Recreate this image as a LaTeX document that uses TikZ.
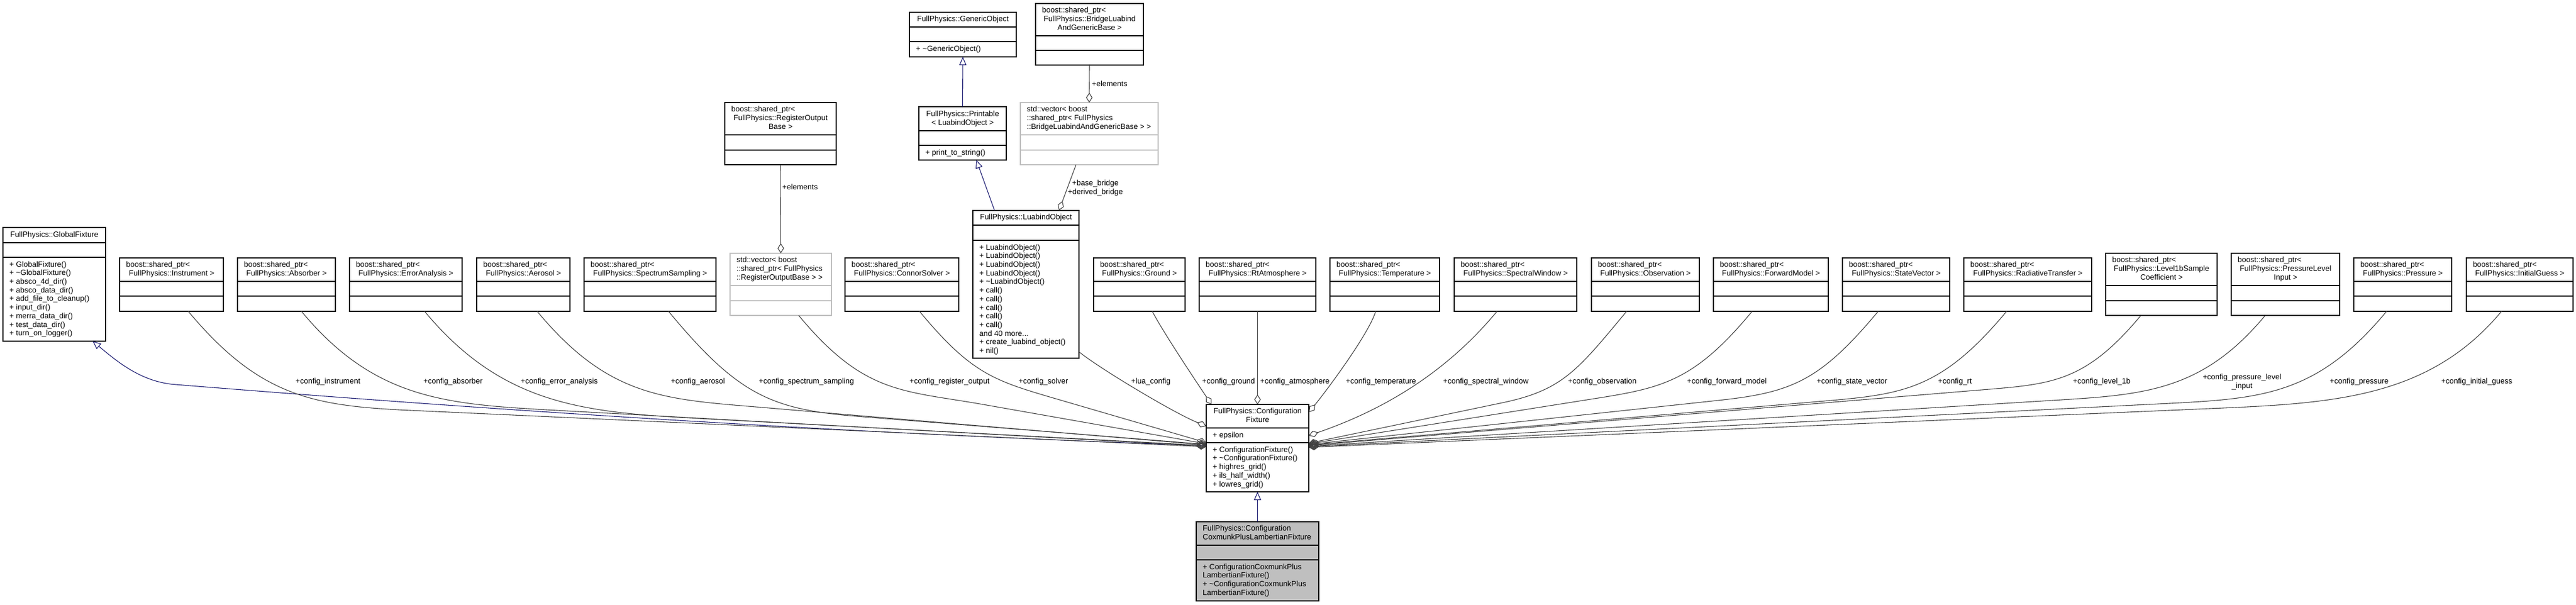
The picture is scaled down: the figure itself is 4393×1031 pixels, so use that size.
\documentclass[tikz,border=0pt]{standalone}
\usepackage{fontspec}
\setmainfont{Liberation Sans}
\usetikzlibrary{arrows.meta,calc}
\definecolor{edgegray}{HTML}{404040}
\definecolor{inhblue}{HTML}{191970}
\definecolor{boxgray}{HTML}{BFBFBF}
\newlength\hw
\newcommand\HC[1]{\makebox[\hw][c]{#1}}
% #1 style, #2 name, #3 xl, #4 xr, #5 ytop, #6 yhead, #7 yattr, #8 ybottom, #9 header rows
\newcommand\cbox[9]{%
  \setlength\hw{\dimexpr #4pt-#3pt-22pt\relax}%
  \node[#1, minimum width={#4pt-#3pt}, minimum height={#8pt-#5pt}] (#2) at (#3,-#5) {};
  \draw[#1sep] (#3,-#6) -- (#4,-#6) (#3,-#7) -- (#4,-#7);
  \node[anchor=west, inner sep=0pt] (#2-h) at ({#3+11},{-(#5+#6)/2}) {\begin{tabular}{@{}l@{}}#9\end{tabular}};
}
% #1 name, #2 xl, #3 section top, #4 rows
\newcommand\cmeth[4]{%
  \node[anchor=north west, inner sep=0pt, font=\fontsize{13}{14.7}\selectfont] (#1) at ({#2+11},{-(#3+5.7)}) {\begin{tabular}[t]{@{}l@{}}#4\end{tabular}};
}
% knee edge: #1 start, #2 first control offset, #3 knee, #4 tail control length, #5 end
\newcommand\kedge[5]{\draw[agg] (#1) .. controls +(#2) and ($(#3)!-#4!(#5)$) .. (#3) -- (#5);}
% simple edge: #1 start, #2 c1 offset, #3 c2 offset (rel. to end), #4 end
\newcommand\sedge[4]{\draw[agg] (#1) .. controls +(#2) and +(#3) .. (#4);}
\newcommand\lab[4]{\node[anchor=base west, inner sep=0pt] (#1) at (#2,-#3) {#4};}

\begin{document}
\begin{tikzpicture}[x=1pt,y=1pt,
  font=\fontsize{13}{15}\selectfont,
  clsbox/.style={draw=black, line width=1.2pt, fill=white, inner sep=0pt, outer sep=0pt, anchor=north west},
  clsboxsep/.style={draw=black, line width=1.2pt},
  vecbox/.style={clsbox, draw=boxgray},
  vecboxsep/.style={draw=boxgray, line width=1.2pt},
  selbox/.style={clsbox, fill=boxgray},
  selboxsep/.style={draw=black, line width=1.2pt},
  agg/.style={draw=edgegray, line width=1.1pt, -{Diamond[open,length=17pt,width=11pt]}},
  inh/.style={draw=inhblue, line width=1.1pt, -{Triangle[open,length=14pt,width=12pt]}}]
\useasboundingbox (0,0) rectangle (4393,-1031);
\fill[white] (0,0) rectangle (4393,-1031);

% ---------- class boxes ----------
\cbox{clsbox}{gf}{5}{180}{388}{414}{439}{582}{\HC{FullPhysics::GlobalFixture}}
\cmeth{gf-m}{5}{439}{+ GlobalFixture()\\+ \textasciitilde GlobalFixture()\\+ absco\_4d\_dir()\\+ absco\_data\_dir()\\+ add\_file\_to\_cleanup()\\+ input\_dir()\\+ merra\_data\_dir()\\+ test\_data\_dir()\\+ turn\_on\_logger()}

\cbox{clsbox}{inst}{204}{381}{440}{480}{505}{531}{boost::shared\_ptr<\\\HC{FullPhysics::Instrument >}}
\cbox{clsbox}{abs}{405}{572}{440}{480}{505}{531}{boost::shared\_ptr<\\\HC{FullPhysics::Absorber >}}
\cbox{clsbox}{err}{596}{788}{440}{480}{505}{531}{boost::shared\_ptr<\\\HC{FullPhysics::ErrorAnalysis >}}
\cbox{clsbox}{aer}{813}{972}{440}{480}{505}{531}{boost::shared\_ptr<\\\HC{FullPhysics::Aerosol >}}
\cbox{clsbox}{ss}{996}{1221}{440}{480}{505}{531}{boost::shared\_ptr<\\\HC{FullPhysics::SpectrumSampling >}}
\cbox{vecbox}{rov}{1245}{1418}{432}{487}{513}{538}{std::vector< boost\\::shared\_ptr< FullPhysics\\::RegisterOutputBase > >}
\cbox{clsbox}{ro}{1236}{1426}{175}{230}{256}{281}{boost::shared\_ptr<\\\HC{FullPhysics::RegisterOutput}\\\HC{Base >}}
\cbox{clsbox}{cs}{1441}{1635}{440}{480}{505}{531}{boost::shared\_ptr<\\\HC{FullPhysics::ConnorSolver >}}

\cbox{clsbox}{lo}{1659}{1840}{359}{384}{410}{611}{\HC{FullPhysics::LuabindObject}}
\cmeth{lo-m}{1659}{410}{+ LuabindObject()\\+ LuabindObject()\\+ LuabindObject()\\+ LuabindObject()\\+ \textasciitilde LuabindObject()\\+ call()\\+ call()\\+ call()\\+ call()\\+ call()\\and 40 more...\\+ create\_luabind\_object()\\+ nil()}
\cbox{clsbox}{pr}{1567}{1716}{182}{223}{248}{273}{\HC{FullPhysics::Printable}\\\HC{< LuabindObject >}}
\cmeth{pr-m}{1567}{248}{+ print\_to\_string()}
\cbox{clsbox}{go}{1551}{1733}{21}{46}{71}{97}{\HC{FullPhysics::GenericObject}}
\cmeth{go-m}{1551}{71}{+ \textasciitilde GenericObject()}
\cbox{clsbox}{br}{1766}{1950}{6}{61}{86}{111}{boost::shared\_ptr<\\\HC{FullPhysics::BridgeLuabind}\\\HC{AndGenericBase >}}
\cbox{vecbox}{brv}{1740}{1975}{175}{230}{256}{281}{std::vector< boost\\::shared\_ptr< FullPhysics\\::BridgeLuabindAndGenericBase > >}

\cbox{clsbox}{gr}{1865}{2021}{440}{480}{505}{531}{boost::shared\_ptr<\\\HC{FullPhysics::Ground >}}
\cbox{clsbox}{atm}{2045}{2244}{440}{480}{505}{531}{boost::shared\_ptr<\\\HC{FullPhysics::RtAtmosphere >}}
\cbox{clsbox}{tmp}{2268}{2455}{440}{480}{505}{531}{boost::shared\_ptr<\\\HC{FullPhysics::Temperature >}}
\cbox{clsbox}{sw}{2480}{2689}{440}{480}{505}{531}{boost::shared\_ptr<\\\HC{FullPhysics::SpectralWindow >}}
\cbox{clsbox}{obs}{2714}{2898}{440}{480}{505}{531}{boost::shared\_ptr<\\\HC{FullPhysics::Observation >}}
\cbox{clsbox}{fm}{2922}{3118}{440}{480}{505}{531}{boost::shared\_ptr<\\\HC{FullPhysics::ForwardModel >}}
\cbox{clsbox}{sv}{3142}{3325}{440}{480}{505}{531}{boost::shared\_ptr<\\\HC{FullPhysics::StateVector >}}
\cbox{clsbox}{rt}{3349}{3567}{440}{480}{505}{531}{boost::shared\_ptr<\\\HC{FullPhysics::RadiativeTransfer >}}
\cbox{clsbox}{l1b}{3591}{3781}{432}{487}{513}{538}{boost::shared\_ptr<\\\HC{FullPhysics::Level1bSample}\\\HC{Coefficient >}}
\cbox{clsbox}{pli}{3805}{3990}{432}{487}{513}{538}{boost::shared\_ptr<\\\HC{FullPhysics::PressureLevel}\\\HC{Input >}}
\cbox{clsbox}{pres}{4014}{4181}{440}{480}{505}{531}{boost::shared\_ptr<\\\HC{FullPhysics::Pressure >}}
\cbox{clsbox}{ig}{4206}{4388}{440}{480}{505}{531}{boost::shared\_ptr<\\\HC{FullPhysics::InitialGuess >}}

\cbox{clsbox}{cf}{2057}{2232}{690}{730}{755}{839}{\HC{FullPhysics::Configuration}\\\HC{Fixture}}
\cmeth{cf-a}{2057}{730}{+ epsilon}
\cmeth{cf-m}{2057}{755}{+ ConfigurationFixture()\\+ \textasciitilde ConfigurationFixture()\\+ highres\_grid()\\+ ils\_half\_width()\\+ lowres\_grid()}
\cbox{selbox}{cc}{2040}{2249}{890}{930}{955}{1025}{FullPhysics::Configuration\\CoxmunkPlusLambertianFixture}
\cmeth{cc-m}{2040}{955}{+ ConfigurationCoxmunkPlus\\LambertianFixture()\\+ \textasciitilde ConfigurationCoxmunkPlus\\LambertianFixture()}

% ---------- connector end points on ConfigurationFixture ----------
\coordinate (eG)  at ([yshift=-70pt]cf.north west);
\coordinate (e1)  at ([yshift=-72pt]cf.north west);
\coordinate (e2)  at ([yshift=-71pt]cf.north west);
\coordinate (e3)  at ([yshift=-70pt]cf.north west);
\coordinate (e4)  at ([yshift=-69pt]cf.north west);
\coordinate (e5)  at ([yshift=-68pt]cf.north west);
\coordinate (e6)  at ([yshift=-67pt]cf.north west);
\coordinate (e7)  at ([yshift=-65pt]cf.north west);
\coordinate (e8)  at ([yshift=-37pt]cf.north west);
\coordinate (e9)  at ([xshift=9pt]cf.north west);
\coordinate (e10) at ([yshift=-13pt]cf.north east);
\coordinate (e11) at ([yshift=-53pt]cf.north east);
\coordinate (e12) at ([yshift=-66pt]cf.north east);
\coordinate (e13) at ([yshift=-67pt]cf.north east);
\coordinate (e14) at ([yshift=-68pt]cf.north east);
\coordinate (e15) at ([yshift=-69pt]cf.north east);
\coordinate (e16) at ([yshift=-70pt]cf.north east);
\coordinate (e17) at ([yshift=-71pt]cf.north east);
\coordinate (e18) at ([yshift=-72pt]cf.north east);
\coordinate (e19) at ([yshift=-73pt]cf.north east);

% ---------- inheritance ----------
\draw[inh] (cc.north) -- (cf.south);
\draw[inh] (pr.north) -- (go.south);
\draw[inh] ([xshift=-53.5pt]lo.north) -- ([xshift=23.5pt]pr.south);
\draw[inh] (eG) .. controls (1300,-735) and (600,-680) .. (300,-656) .. controls (240,-652) and (198,-615) .. ([xshift=65.5pt]gf.south);

% ---------- aggregation ----------
\draw[agg] (ro.south) -- (rov.north);
\draw[agg] (br.south) -- (brv.north);
\draw[agg] ([xshift=-22.5pt]brv.south) -- ([xshift=56.5pt]lo.north);

\kedge{[xshift=28.5pt]inst.south}{122,-146}{700,-700}{166pt}{e1}
\kedge{[xshift=25.5pt]abs.south}{126,-152}{950,-700}{187pt}{e2}
\kedge{[xshift=32pt]err.south}{138,-166}{1214,-715}{209pt}{e3}
\kedge{[xshift=23.5pt]aer.south}{123,-148}{1300,-695}{167pt}{e4}
\kedge{[xshift=31.5pt]ss.south}{117,-141}{1460,-710}{147pt}{e5}
\kedge{[xshift=30.5pt]rov.south}{112,-135}{1677,-690}{140pt}{e6}
\kedge{[xshift=30pt]cs.south}{88,-106}{1800,-680}{110pt}{e7}
\sedge{[yshift=11pt]lo.south east}{30,-25}{-60,25}{e8}
\sedge{[xshift=22pt]gr.south}{18,-35}{-20,30}{e9}
\draw[agg] (atm.south) -- (cf.north);
\sedge{[xshift=-15.5pt]tmp.south}{-12,-40}{25,30}{e10}
\sedge{[xshift=-31.5pt]sw.south}{-86,-104}{128,44}{e11}
\kedge{[xshift=-32pt]obs.south}{-84,-101}{2562,-687}{105pt}{e12}
\kedge{[xshift=-32pt]fm.south}{-104,-126}{2700,-683}{130pt}{e13}
\kedge{[xshift=-30.5pt]sv.south}{-100,-120}{2930,-683}{125pt}{e14}
\kedge{[xshift=-36pt]rt.south}{-114,-137}{3100,-685}{143pt}{e15}
\kedge{[xshift=-35pt]l1b.south}{-95,-114}{3380,-665}{120pt}{e16}
\kedge{[xshift=-34.5pt]pli.south}{-108,-130}{3500,-683}{156pt}{e17}
\kedge{[xshift=-27.5pt]pres.south}{-117,-141}{3700,-688}{160pt}{e18}
\kedge{[xshift=-31pt]ig.south}{-124,-149}{3768,-697}{210pt}{e19}

% ---------- labels ----------
\lab{l1}{504}{654}{+config\_instrument}
\lab{l2}{722}{654.5}{+config\_absorber}
\lab{l3}{888}{654.5}{+config\_error\_analysis}
\lab{l4}{1144}{654.5}{+config\_aerosol}
\lab{l5}{1294}{654.5}{+config\_spectrum\_sampling}
\lab{l6}{1551}{654}{+config\_register\_output}
\lab{l7}{1737}{654}{+config\_solver}
\lab{l8}{1929}{654}{+lua\_config}
\lab{l9}{2050}{654}{+config\_ground}
\lab{l10}{2149}{654}{+config\_atmosphere}
\lab{l11}{2295}{654}{+config\_temperature}
\lab{l12}{2461}{654.5}{+config\_spectral\_window}
\lab{l13}{2674}{654.5}{+config\_observation}
\lab{l14}{2877}{654.5}{+config\_forward\_model}
\lab{l15}{3098}{654.5}{+config\_state\_vector}
\lab{l16}{3305}{654.5}{+config\_rt}
\lab{l17}{3535}{654.5}{+config\_level\_1b}
\node[anchor=base, inner sep=0pt] (l18) at (3823.5,-647.5) {\begin{tabular}[t]{@{}c@{}}+config\_pressure\_level\\\_input\end{tabular}};
\lab{l19}{3973}{654.5}{+config\_pressure}
\lab{l20}{4163}{654.5}{+config\_initial\_guess}
\lab{l21}{1334}{323.5}{+elements}
\lab{l22}{1862}{147.5}{+elements}
\node[anchor=base, inner sep=0pt] (l23) at (1868,-316.5) {\begin{tabular}[t]{@{}c@{}}+base\_bridge\\+derived\_bridge\end{tabular}};
\end{tikzpicture}
\end{document}
